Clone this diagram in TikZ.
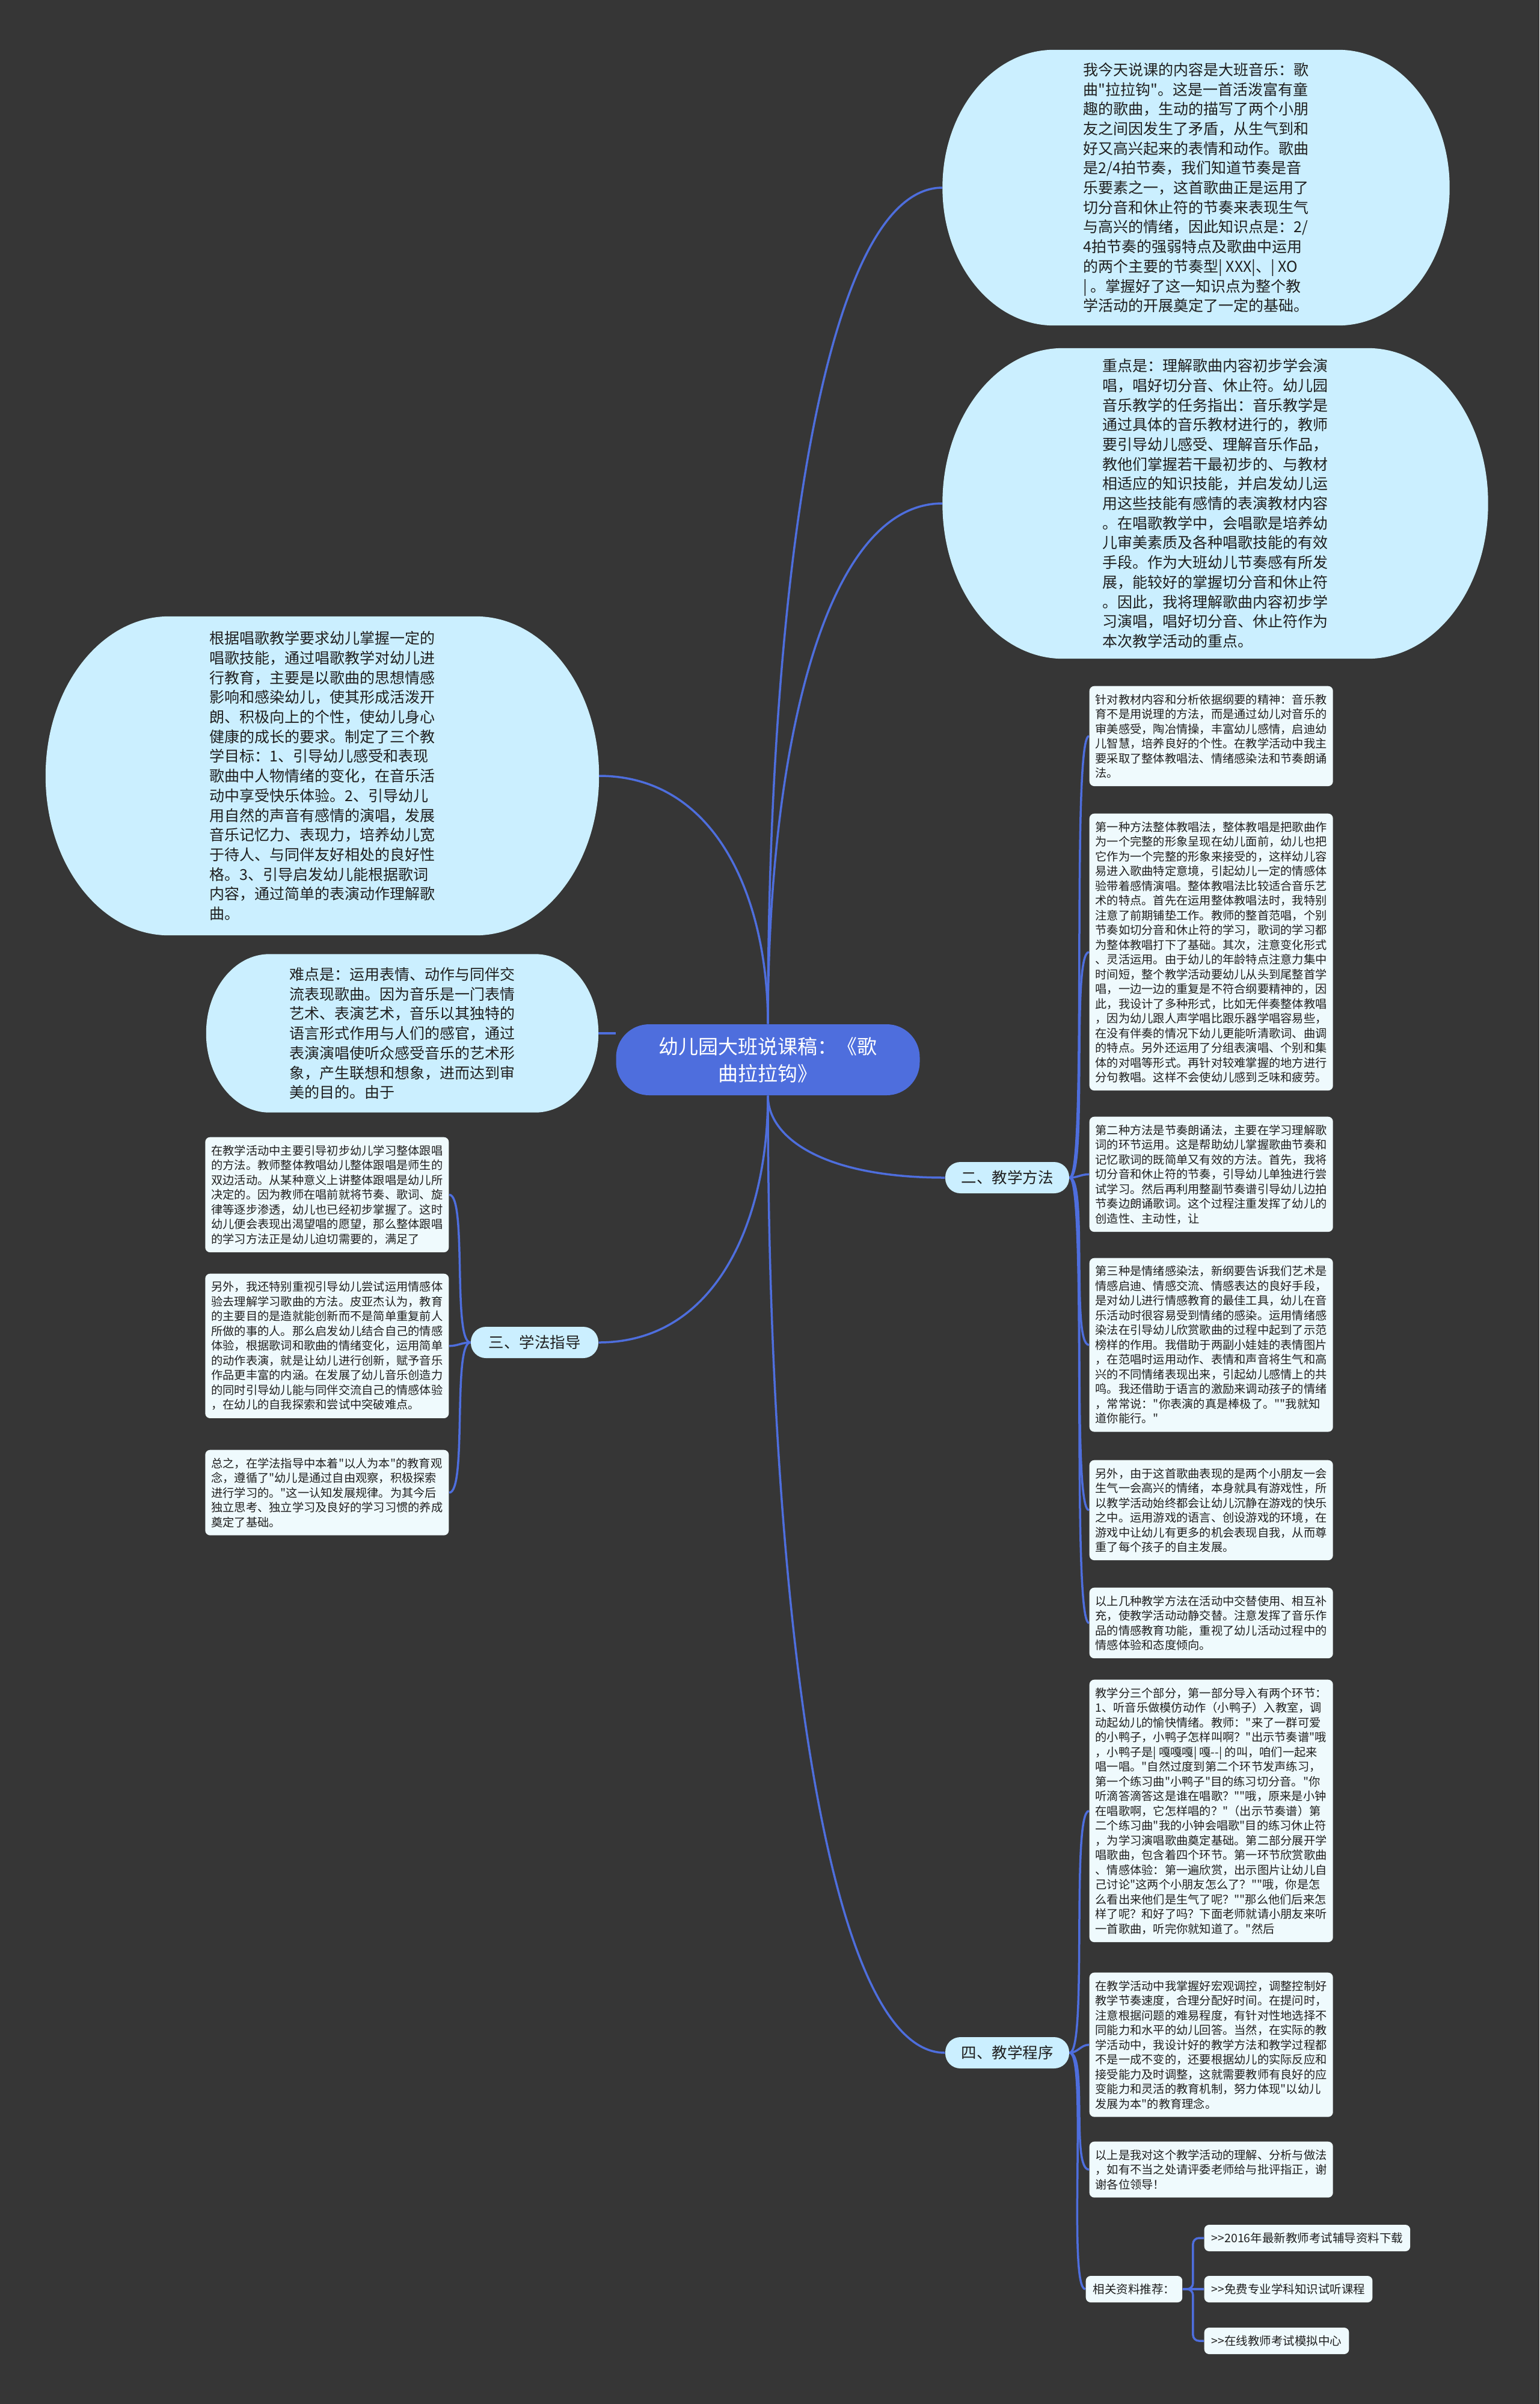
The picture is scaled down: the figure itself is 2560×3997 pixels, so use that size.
\documentclass[tikz,border=0pt]{standalone}
\usepackage{fontspec}
\newfontfamily\mapfont{Noto Sans CJK SC}
\usetikzlibrary{calc}
\definecolor{bgdark}{HTML}{363636}
\definecolor{mapblue}{HTML}{4E6EDD}
\definecolor{bubblefill}{HTML}{CBEFFF}
\definecolor{boxfill}{HTML}{EFFAFD}
\definecolor{inktext}{HTML}{1F1F1F}
\pgfdeclarelayer{bg}
\pgfsetlayers{bg,main}
\newlength{\LeafWidth}
\setlength{\LeafWidth}{40.5mm}
\tikzset{
  root node/.style={fill=mapblue, text=white, rounded corners=5.5mm, minimum width=50.5mm, minimum height=11.8mm, align=center, font=\mapfont\fontsize{3.3mm}{4.5mm}\selectfont},
  bubble node/.style={align=left, text=inktext, font=\mapfont\fontsize{2.5mm}{3.27mm}\selectfont},
  branch node/.style={fill=bubblefill, text=inktext, rounded corners=2.5mm, minimum width=20.6mm, minimum height=5.2mm, font=\mapfont\fontsize{2.55mm}{3mm}\selectfont},
  leaf node/.style={fill=boxfill, text=inktext, rounded corners=0.8mm, minimum width=\LeafWidth, inner xsep=1mm, inner ysep=1.3mm, align=left, font=\mapfont\fontsize{1.925mm}{2.45mm}\selectfont},
  link node/.style={fill=boxfill, text=inktext, rounded corners=0.8mm, minimum height=4.4mm, inner xsep=1.2mm, font=\mapfont\fontsize{1.95mm}{2.4mm}\selectfont},
  map line/.style={draw=mapblue, line width=0.35mm},
  tree edge/.style={to path={.. controls ($(\tikztostart)!0.5!(\tikztostart |- \tikztotarget)$) and ($(\tikztotarget)!0.7!(\tikztostart |- \tikztotarget)$) .. (\tikztotarget)}},
}
% fill with elliptic corners behind a node: name, x radius, y radius
\newcommand{\bubble}[3]{%
  \fill[bubblefill] ([xshift=#2]#1.north west) -- ([xshift=-#2]#1.north east)
    arc[start angle=90, end angle=0, x radius=#2, y radius=#3]
    -- ([yshift=#3]#1.south east)
    arc[start angle=0, end angle=-90, x radius=#2, y radius=#3]
    -- ([xshift=#2]#1.south west)
    arc[start angle=270, end angle=180, x radius=#2, y radius=#3]
    -- ([yshift=-#3]#1.north west)
    arc[start angle=180, end angle=90, x radius=#2, y radius=#3]
    -- cycle;
}

\begin{document}
\begin{tikzpicture}[x=0.1mm, y=-0.1mm]
  \node[root node] (root) at (1277,1762) {幼儿园大班说课稿：《歌\\曲拉拉钩》};

  % right bubbles
  \node[bubble node, minimum width=84.2mm, minimum height=45.7mm] (intro) at (1989,312) {%
    我今天说课的内容是大班音乐：歌\\
    曲"拉拉钩"。这是一首活泼富有童\\
    趣的歌曲，生动的描写了两个小朋\\
    友之间因发生了矛盾，从生气到和\\
    好又高兴起来的表情和动作。歌曲\\
    是2/4拍节奏，我们知道节奏是音\\
    乐要素之一，这首歌曲正是运用了\\
    切分音和休止符的节奏来表现生气\\
    与高兴的情绪，因此知识点是：2/\\
    4拍节奏的强弱特点及歌曲中运用\\
    的两个主要的节奏型| XXX|、| XO\\
    | 。掌握好了这一知识点为整个教\\
    学活动的开展奠定了一定的基础。};
  \node[bubble node, minimum width=90.6mm, minimum height=51.5mm] (keypt) at (2021,837) {%
    重点是：理解歌曲内容初步学会演\\
    唱，唱好切分音、休止符。幼儿园\\
    音乐教学的任务指出：音乐教学是\\
    通过具体的音乐教材进行的，教师\\
    要引导幼儿感受、理解音乐作品，\\
    教他们掌握若干最初步的、与教材\\
    相适应的知识技能，并启发幼儿运\\
    用这些技能有感情的表演教材内容\\
    。在唱歌教学中，会唱歌是培养幼\\
    儿审美素质及各种唱歌技能的有效\\
    手段。作为大班幼儿节奏感有所发\\
    展，能较好的掌握切分音和休止符\\
    。因此，我将理解歌曲内容初步学\\
    习演唱，唱好切分音、休止符作为\\
    本次教学活动的重点。};

  % left bubbles
  \node[bubble node, minimum width=91.9mm, minimum height=52.9mm] (aims) at (536,1290) {%
    根据唱歌教学要求幼儿掌握一定的\\
    唱歌技能，通过唱歌教学对幼儿进\\
    行教育，主要是以歌曲的思想情感\\
    影响和感染幼儿，使其形成活泼开\\
    朗、积极向上的个性，使幼儿身心\\
    健康的成长的要求。制定了三个教\\
    学目标：1、引导幼儿感受和表现\\
    歌曲中人物情绪的变化，在音乐活\\
    动中享受快乐体验。2、引导幼儿\\
    用自然的声音有感情的演唱，发展\\
    音乐记忆力、表现力，培养幼儿宽\\
    于待人、与同伴友好相处的良好性\\
    格。3、引导启发幼儿能根据歌词\\
    内容，通过简单的表演动作理解歌\\
    曲。};
  \node[bubble node, minimum width=65.1mm, minimum height=26.2mm] (hardpt) at (669,1718) {%
    难点是：运用表情、动作与同伴交\\
    流表现歌曲。因为音乐是一门表情\\
    艺术、表演艺术，音乐以其独特的\\
    语言形式作用与人们的感官，通过\\
    表演演唱使听众感受音乐的艺术形\\
    象，产生联想和想象，进而达到审\\
    美的目的。由于};

  % branches
  \node[branch node] (method) at (1675,1958) {二、教学方法};
  \node[branch node, minimum width=21.2mm] (study) at (889,2232) {三、学法指导};
  \node[branch node] (steps) at (1675,3413) {四、教学程序};

  % teaching methods
  \node[leaf node, anchor=north west] (mth1) at (1811,1140) {%
    针对教材内容和分析依据纲要的精神：音乐教\\
    育不是用说理的方法，而是通过幼儿对音乐的\\
    审美感受，陶冶情操，丰富幼儿感情，启迪幼\\
    儿智慧，培养良好的个性。在教学活动中我主\\
    要采取了整体教唱法、情绪感染法和节奏朗诵\\
    法。};
  \node[leaf node, anchor=north west] (mth2) at (1811,1352) {%
    第一种方法整体教唱法，整体教唱是把歌曲作\\
    为一个完整的形象呈现在幼儿面前，幼儿也把\\
    它作为一个完整的形象来接受的，这样幼儿容\\
    易进入歌曲特定意境，引起幼儿一定的情感体\\
    验带着感情演唱。整体教唱法比较适合音乐艺\\
    术的特点。首先在运用整体教唱法时，我特别\\
    注意了前期铺垫工作。教师的整首范唱，个别\\
    节奏如切分音和休止符的学习，歌词的学习都\\
    为整体教唱打下了基础。其次，注意变化形式\\
    、灵活运用。由于幼儿的年龄特点注意力集中\\
    时间短，整个教学活动要幼儿从头到尾整首学\\
    唱，一边一边的重复是不符合纲要精神的，因\\
    此，我设计了多种形式，比如无伴奏整体教唱\\
    ，因为幼儿跟人声学唱比跟乐器学唱容易些，\\
    在没有伴奏的情况下幼儿更能听清歌词、曲调\\
    的特点。另外还运用了分组表演唱、个别和集\\
    体的对唱等形式。再针对较难掌握的地方进行\\
    分句教唱。这样不会使幼儿感到乏味和疲劳。};
  \node[leaf node, anchor=north west] (mth3) at (1811,1856) {%
    第二种方法是节奏朗诵法，主要在学习理解歌\\
    词的环节运用。这是帮助幼儿掌握歌曲节奏和\\
    记忆歌词的既简单又有效的方法。首先，我将\\
    切分音和休止符的节奏，引导幼儿单独进行尝\\
    试学习。然后再利用整副节奏谱引导幼儿边拍\\
    节奏边朗诵歌词。这个过程注重发挥了幼儿的\\
    创造性、主动性，让};
  \node[leaf node, anchor=north west] (mth4) at (1811,2091) {%
    第三种是情绪感染法，新纲要告诉我们艺术是\\
    情感启迪、情感交流、情感表达的良好手段，\\
    是对幼儿进行情感教育的最佳工具，幼儿在音\\
    乐活动时很容易受到情绪的感染。运用情绪感\\
    染法在引导幼儿欣赏歌曲的过程中起到了示范\\
    榜样的作用。我借助于两副小娃娃的表情图片\\
    ，在范唱时运用动作、表情和声音将生气和高\\
    兴的不同情绪表现出来，引起幼儿感情上的共\\
    鸣。我还借助于语言的激励来调动孩子的情绪\\
    ，常常说："你表演的真是棒极了。""我就知\\
    道你能行。"};
  \node[leaf node, anchor=north west] (mth5) at (1811,2427) {%
    另外，由于这首歌曲表现的是两个小朋友一会\\
    生气一会高兴的情绪，本身就具有游戏性，所\\
    以教学活动始终都会让幼儿沉静在游戏的快乐\\
    之中。运用游戏的语言、创设游戏的环境，在\\
    游戏中让幼儿有更多的机会表现自我，从而尊\\
    重了每个孩子的自主发展。};
  \node[leaf node, anchor=north west] (mth6) at (1811,2639) {%
    以上几种教学方法在活动中交替使用、相互补\\
    充，使教学活动动静交替。注意发挥了音乐作\\
    品的情感教育功能，重视了幼儿活动过程中的\\
    情感体验和态度倾向。};

  % study guidance
  \node[leaf node, anchor=north east] (std1) at (747,1890) {%
    在教学活动中主要引导初步幼儿学习整体跟唱\\
    的方法。教师整体教唱幼儿整体跟唱是师生的\\
    双边活动。从某种意义上讲整体跟唱是幼儿所\\
    决定的。因为教师在唱前就将节奏、歌词、旋\\
    律等逐步渗透，幼儿也已经初步掌握了。这时\\
    幼儿便会表现出渴望唱的愿望，那么整体跟唱\\
    的学习方法正是幼儿迫切需要的，满足了};
  \node[leaf node, anchor=north east] (std2) at (747,2117) {%
    另外，我还特别重视引导幼儿尝试运用情感体\\
    验去理解学习歌曲的方法。皮亚杰认为，教育\\
    的主要目的是造就能创新而不是简单重复前人\\
    所做的事的人。那么启发幼儿结合自己的情感\\
    体验，根据歌词和歌曲的情绪变化，运用简单\\
    的动作表演，就是让幼儿进行创新，赋予音乐\\
    作品更丰富的内涵。在发展了幼儿音乐创造力\\
    的同时引导幼儿能与同伴交流自己的情感体验\\
    ，在幼儿的自我探索和尝试中突破难点。};
  \node[leaf node, anchor=north east] (std3) at (747,2410) {%
    总之，在学法指导中本着"以人为本"的教育观\\
    念，遵循了"幼儿是通过自由观察，积极探索\\
    进行学习的。"这一认知发展规律。为其今后\\
    独立思考、独立学习及良好的学习习惯的养成\\
    奠定了基础。};

  % teaching steps
  \node[leaf node, anchor=north west] (stp1) at (1811,2792) {%
    教学分三个部分，第一部分导入有两个环节：\\
    1、听音乐做模仿动作（小鸭子）入教室，调\\
    动起幼儿的愉快情绪。教师："来了一群可爱\\
    的小鸭子，小鸭子怎样叫啊？"出示节奏谱"哦\\
    ，小鸭子是| 嘎嘎嘎| 嘎--| 的叫，咱们一起来\\
    唱一唱。"自然过度到第二个环节发声练习，\\
    第一个练习曲"小鸭子"目的练习切分音。"你\\
    听滴答滴答这是谁在唱歌？""哦，原来是小钟\\
    在唱歌啊，它怎样唱的？"（出示节奏谱）第\\
    二个练习曲"我的小钟会唱歌"目的练习休止符\\
    ，为学习演唱歌曲奠定基础。第二部分展开学\\
    唱歌曲，包含着四个环节。第一环节欣赏歌曲\\
    、情感体验：第一遍欣赏，出示图片让幼儿自\\
    己讨论"这两个小朋友怎么了？""哦，你是怎\\
    么看出来他们是生气了呢？""那么他们后来怎\\
    样了呢？和好了吗？下面老师就请小朋友来听\\
    一首歌曲，听完你就知道了。"然后};
  \node[leaf node, anchor=north west] (stp2) at (1811,3279) {%
    在教学活动中我掌握好宏观调控，调整控制好\\
    教学节奏速度，合理分配好时间。在提问时，\\
    注意根据问题的难易程度，有针对性地选择不\\
    同能力和水平的幼儿回答。当然，在实际的教\\
    学活动中，我设计好的教学方法和教学过程都\\
    不是一成不变的，还要根据幼儿的实际反应和\\
    接受能力及时调整，这就需要教师有良好的应\\
    变能力和灵活的教育机制，努力体现"以幼儿\\
    发展为本"的教育理念。};
  \node[leaf node, anchor=north west] (stp3) at (1811,3560) {%
    以上是我对这个教学活动的理解、分析与做法\\
    ，如有不当之处请评委老师给与批评指正，谢\\
    谢各位领导！};
  \node[link node, anchor=west] (refs) at (1805,3806) {相关资料推荐：};
  \node[link node, anchor=west] (lnk1) at (2002,3721) {>>2016年最新教师考试辅导资料下载};
  \node[link node, anchor=west] (lnk2) at (2002,3806) {>>免费专业学科知识试听课程};
  \node[link node, anchor=west] (lnk3) at (2002,3892) {>>在线教师考试模拟中心};

  \begin{pgfonlayer}{bg}
    \fill[bgdark] (0,0) rectangle (2560,3997);
    \draw[map line] (root.north) to[tree edge] (intro.west);
    \draw[map line] (root.north) to[tree edge] (keypt.west);
    \draw[map line] (root.north) to[tree edge] (aims.east);
    \draw[map line] (hardpt.east) -- (hardpt.east -| root.west);
    \draw[map line] (root.south) to[tree edge] (method.west);
    \draw[map line] (root.south) to[tree edge] (study.east);
    \draw[map line] (root.south) to[tree edge] (steps.west);
    \foreach \leaf in {mth1,mth2,mth3,mth4,mth5,mth6}
      \draw[map line] (method.east) to[out=0, in=180, max distance=3mm] (\leaf.west);
    \foreach \leaf in {std1,std2,std3}
      \draw[map line] (study.west) to[out=180, in=0, max distance=3mm] (\leaf.east);
    \foreach \leaf in {stp1,stp2,stp3,refs}
      \draw[map line] (steps.east) to[out=0, in=180, max distance=3mm] (\leaf.west);
    \draw[map line, rounded corners=1mm] (refs.east) -- ++(17,0) |- (lnk1.west);
    \draw[map line] (refs.east) -- (lnk2.west);
    \draw[map line, rounded corners=1mm] (refs.east) -- ++(17,0) |- (lnk3.west);
    \bubble{intro}{18.5mm}{22.85mm}
    \bubble{keypt}{20mm}{25.75mm}
    \bubble{aims}{20.5mm}{26.45mm}
    \bubble{hardpt}{10.5mm}{13.1mm}
  \end{pgfonlayer}
\end{tikzpicture}
\end{document}
